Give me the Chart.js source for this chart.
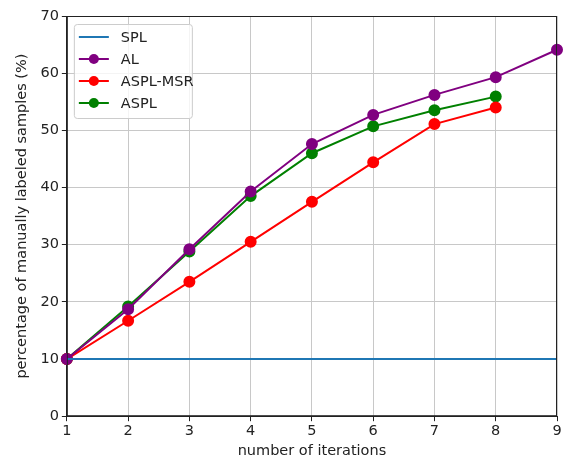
<!DOCTYPE html>
<html lang="en">
<head>
  <meta charset="UTF-8">
  <title>Manually labeled samples per iteration</title>
  <script src="https://cdn.jsdelivr.net/npm/chart.js"></script>
  <style>
    html, body { margin: 0; padding: 0; background: #fff; }
    #wrap { width: 566px; height: 460px; }
  </style>
</head>
<body>
  <div id="wrap"><canvas id="chart" width="566" height="460"></canvas></div>

  <script>
    // iterations on the x axis
    const iterations = [1, 2, 3, 4, 5, 6, 7, 8, 9];
    const yTicks = [0, 10, 20, 30, 40, 50, 60, 70];

    // percentage of manually labeled samples
    const splValues = [10, 10, 10, 10, 10, 10, 10, 10, 10];
    const alValues = [10, 18.7, 29.2, 39.3, 47.6, 52.7, 56.2, 59.3, 64.1];
    const asplMsrValues = [10, 16.7, 23.5, 30.5, 37.5, 44.4, 51.1, 54.0];
    const asplValues = [10, 19.2, 28.8, 38.5, 46.0, 50.7, 53.5, 55.9];

    const pts = vals => vals.map((v, i) => ({ x: iterations[i], y: v }));
    const FONT = { family: 'DejaVu Sans', size: 14.5 };

    // matplotlib style legend box inside the axes, top-left
    const insideLegend = {
      id: 'insideLegend',
      afterDraw(chart) {
        const ctx = chart.ctx;
        const area = chart.chartArea;
        const sets = chart.data.datasets;
        const x0 = area.left + 7, y0 = area.top + 8;
        const w = 118, rowH = 22, h = 94;
        ctx.save();
        ctx.fillStyle = 'rgba(255,255,255,0.8)';
        ctx.strokeStyle = '#cccccc';
        ctx.lineWidth = 1;
        ctx.beginPath();
        ctx.roundRect(x0 + 0.5, y0 + 0.5, w, h, 3);
        ctx.fill();
        ctx.stroke();
        ctx.font = FONT.size + 'px "DejaVu Sans"';
        ctx.textBaseline = 'middle';
        sets.forEach((ds, i) => {
          const cy = y0 + 13 + i * rowH;
          ctx.strokeStyle = ds.borderColor;
          ctx.lineWidth = 2;
          ctx.beginPath();
          ctx.moveTo(x0 + 5, cy);
          ctx.lineTo(x0 + 35, cy);
          ctx.stroke();
          if (ds.pointRadius > 0) {
            ctx.fillStyle = ds.borderColor;
            ctx.beginPath();
            ctx.arc(x0 + 20, cy, 5, 0, Math.PI * 2);
            ctx.fill();
          }
          ctx.fillStyle = '#222';
          ctx.fillText(ds.label, x0 + 47, cy + 1);
        });
        ctx.restore();
      }
    };

    const ctx = document.getElementById('chart').getContext('2d');
    new Chart(ctx, {
      type: 'line',
      data: {
        datasets: [
          { label: 'SPL', data: pts(splValues), borderColor: '#1f77b4', backgroundColor: '#1f77b4', pointRadius: 0, borderWidth: 2 },
          { label: 'AL', data: pts(alValues), borderColor: '#800080', backgroundColor: '#800080', pointRadius: 5, borderWidth: 2 },
          { label: 'ASPL-MSR', data: pts(asplMsrValues), borderColor: '#ff0000', backgroundColor: '#ff0000', pointRadius: 5, borderWidth: 2 },
          { label: 'ASPL', data: pts(asplValues), borderColor: '#008000', backgroundColor: '#008000', pointRadius: 5, borderWidth: 2 }
        ]
      },
      options: {
        responsive: false,
        animation: false,
        clip: false,
        layout: { padding: { left: 14, right: 9, top: 16, bottom: 0 } },
        plugins: {
          legend: { display: false },
          tooltip: { enabled: false }
        },
        elements: { line: { tension: 0 }, point: { borderWidth: 0, hoverRadius: 5 } },
        scales: {
          x: {
            type: 'linear',
            min: 1, max: 9,
            afterBuildTicks: axis => { axis.ticks = iterations.map(v => ({ value: v })); },
            grid: { color: '#c8c8c8', tickColor: '#222', tickLength: 5, lineWidth: 1 },
            border: { color: '#222', width: 1 },
            ticks: { color: '#222', font: FONT, padding: 1, maxRotation: 0 },
            title: { display: true, text: 'number of iterations', color: '#222', font: FONT, padding: { top: 2, bottom: 0 } }
          },
          y: {
            min: 0, max: 70,
            afterBuildTicks: axis => { axis.ticks = yTicks.map(v => ({ value: v })); },
            grid: { color: '#c8c8c8', tickColor: '#222', tickLength: 5, lineWidth: 1 },
            border: { color: '#222', width: 1 },
            ticks: { color: '#222', font: FONT, padding: 3 },
            title: { display: true, text: 'percentage of manually labeled samples (%)', color: '#222', font: FONT, padding: { top: 0, bottom: 6 } }
          }
        }
      },
      plugins: [insideLegend, {
        id: 'frame',
        afterDraw(chart) {
          const a = chart.chartArea, c = chart.ctx;
          c.save();
          c.strokeStyle = '#222';
          c.lineWidth = 1;
          c.strokeRect(a.left + 0.5, a.top + 0.5, a.right - a.left - 1, a.bottom - a.top - 1);
          c.restore();
        }
      }]
    });
  </script>
</body>
</html>
